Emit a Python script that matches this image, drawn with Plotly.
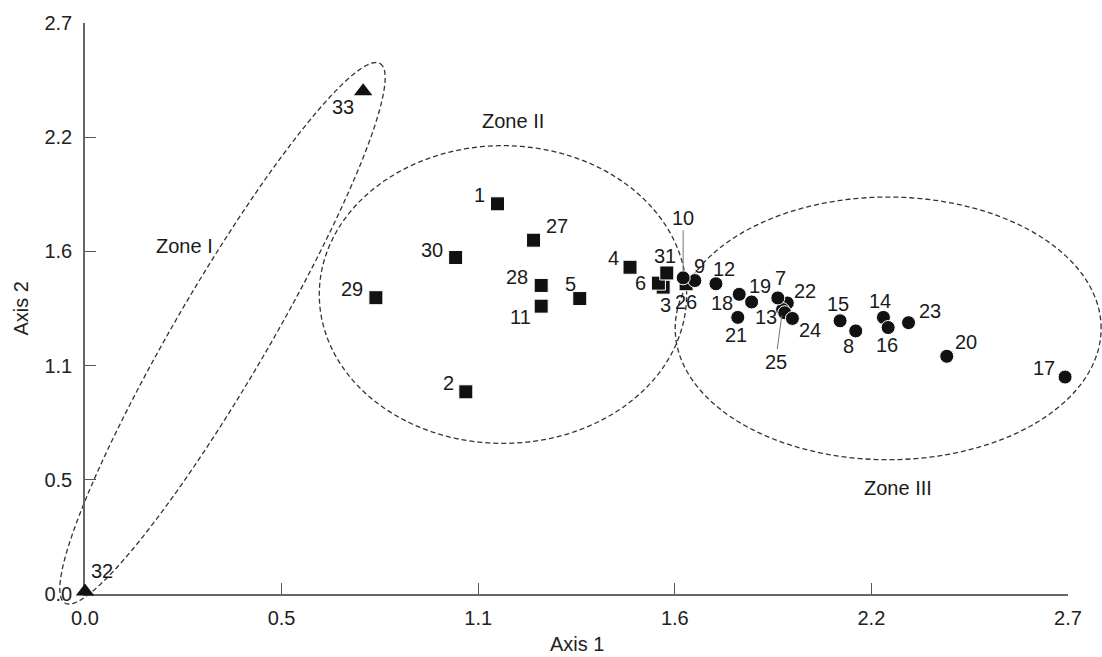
import numpy as np
import plotly.graph_objects as go

# ---------------- data ----------------
sq_ids = ["1", "2", "3", "4", "5", "6", "11", "26", "27", "28", "29", "30", "31"]
sq_x = [1.133, 1.046, 1.588, 1.497, 1.359, 1.575, 1.253, 1.651, 1.232, 1.253, 0.799, 1.018, 1.598]
sq_y = [1.845, 0.956, 1.451, 1.545, 1.397, 1.470, 1.361, 1.467, 1.673, 1.459, 1.401, 1.591, 1.518]

ci_ids = ["22", "25", "13", "24", "7", "8", "9", "10", "12", "14", "15", "16", "17", "18", "19", "20", "21", "23"]
ci_x = [1.929, 1.916, 1.922, 1.943, 1.903, 2.117, 1.675, 1.643, 1.733, 2.193, 2.074, 2.206, 2.692, 1.797, 1.831, 2.367, 1.793, 2.262]
ci_y = [1.376, 1.345, 1.330, 1.303, 1.400, 1.244, 1.482, 1.495, 1.467, 1.308, 1.292, 1.260, 1.026, 1.417, 1.381, 1.124, 1.308, 1.283]

tr_ids = ["32", "33"]
tr_x = [0.0, 0.764]
tr_y = [0.012, 2.377]

tick_vals = [0.0, 0.54, 1.08, 1.62, 2.16, 2.7]
tick_text = ["0.0", "0.5", "1.1", "1.6", "2.2", "2.7"]

zone_names = ["Zone I", "Zone II", "Zone III"]

# ---------------- styling / placement ----------------
AX_MAX = 2.7
FONT = "Liberation Sans, Arial, sans-serif"
INK = "#111111"
LAB = 20

# label offsets in screen pixels (dx right, dy down)
label_off = {
    "1": (-18, -9), "2": (-17, -9), "3": (2, 18), "4": (-17, -9), "5": (-9, -15),
    "6": (-18, 0), "7": (3, -20), "8": (-7, 15), "9": (5, -15), "11": (-21, 11),
    "12": (8, -15), "13": (-19, 4), "14": (-3, -16), "15": (-2, -17), "16": (-1, 17),
    "17": (-21, -9), "18": (-17, 9), "19": (8, -16), "20": (19, -14), "21": (-2, 18),
    "22": (18, -12), "23": (21, -12), "24": (18, 12), "26": (0, 18), "27": (23, -14),
    "28": (-24, -8), "29": (-24, -9), "30": (-24, -8), "31": (-2, -17),
    "32": (17, -20), "33": (-20, 16),
}
leader_off = {"10": (0, -60), "25": (-7, 52)}

fig = go.Figure()
fig.add_trace(go.Scatter(x=sq_x, y=sq_y, mode="markers", cliponaxis=False,
                         marker=dict(symbol="square", size=14, color=INK,
                                     line=dict(color="white", width=1))))
fig.add_trace(go.Scatter(x=ci_x, y=ci_y, mode="markers", cliponaxis=False,
                         marker=dict(symbol="circle", size=14, color=INK,
                                     line=dict(color="white", width=1))))
fig.add_trace(go.Scatter(x=tr_x, y=tr_y, mode="markers", cliponaxis=False,
                         marker=dict(symbol="triangle-up", size=16, color=INK,
                                     line=dict(color="white", width=0))))

annotations = []
for ids, xs, ys in [(sq_ids, sq_x, sq_y), (ci_ids, ci_x, ci_y), (tr_ids, tr_x, tr_y)]:
    for i, xv, yv in zip(ids, xs, ys):
        if i in leader_off:
            ax, ay = leader_off[i]
            annotations.append(dict(x=xv, y=yv, text=i, showarrow=True, arrowhead=0,
                                    arrowwidth=1, arrowcolor="#777777", ax=ax, ay=ay,
                                    standoff=6, font=dict(size=LAB, color="#1a1a1a", family=FONT)))
        else:
            dx, dy = label_off[i]
            annotations.append(dict(x=xv, y=yv, text=i, showarrow=False,
                                    xshift=dx, yshift=-dy, xanchor="center", yanchor="middle",
                                    font=dict(size=LAB, color="#1a1a1a", family=FONT)))

# zone labels (data coords)
zone_lab_x = [0.272, 1.175, 2.233]
zone_lab_y = [1.644, 2.237, 0.500]
for n, zx, zy in zip(zone_names, zone_lab_x, zone_lab_y):
    annotations.append(dict(x=zx, y=zy, text=n, showarrow=False, xanchor="center",
                            yanchor="middle", font=dict(size=20, color="#1a1a1a", family=FONT)))

# axis titles
annotations.append(dict(x=0.5, y=-0.088, xref="paper", yref="paper", text="Axis 1",
                        showarrow=False, xanchor="center", yanchor="middle",
                        font=dict(size=20, color="#222222", family=FONT)))
annotations.append(dict(x=0, y=0.5, xref="paper", yref="paper", text="Axis 2", textangle=-90,
                        showarrow=False, xanchor="center", yanchor="middle", xshift=-65,
                        font=dict(size=20, color="#222222", family=FONT)))

# zone ellipses: centre + two conjugate semi-diameters in data units
zones = [
    ((0.3776, 1.233), (0.4326, 1.2756), (0.1118, -0.1098)),
    ((1.148, 1.416), (0.5045, 0.0), (0.0, 0.704)),
    ((2.206, 1.256), (0.585, 0.0), (0.0, 0.621)),
]
t = np.linspace(0, 2 * np.pi, 241)
shapes = []
for (cx, cy), (ax_, ay_), (bx, by) in zones:
    px = (cx + ax_ * np.cos(t) + bx * np.sin(t)) / AX_MAX
    py = (cy + ay_ * np.cos(t) + by * np.sin(t)) / AX_MAX
    path = "M " + " L ".join(f"{a:.5f},{b:.5f}" for a, b in zip(px, py)) + " Z"
    shapes.append(dict(type="path", xref="paper", yref="paper", path=path,
                       line=dict(color="#333333", width=1.3, dash="5px,3px"), layer="below"))

axis_common = dict(range=[0, AX_MAX], tickmode="array", tickvals=tick_vals, ticktext=tick_text,
                   showgrid=False, zeroline=False, showline=True, linecolor="#666666",
                   linewidth=1.6, ticks="inside", ticklen=11, tickwidth=1, tickcolor="#555555",
                   tickfont=dict(size=20, color="#222222", family=FONT), fixedrange=True,
                   layer="below traces")

fig.update_layout(
    width=1102, height=657,
    margin=dict(l=85, r=34, t=16, b=63),
    paper_bgcolor="white", plot_bgcolor="white",
    showlegend=False,
    xaxis=dict(**axis_common, ticklabelstandoff=5),
    yaxis=dict(**axis_common, ticklabelstandoff=7),
    annotations=annotations,
    shapes=shapes,
)

fig.write_html("out.html")
